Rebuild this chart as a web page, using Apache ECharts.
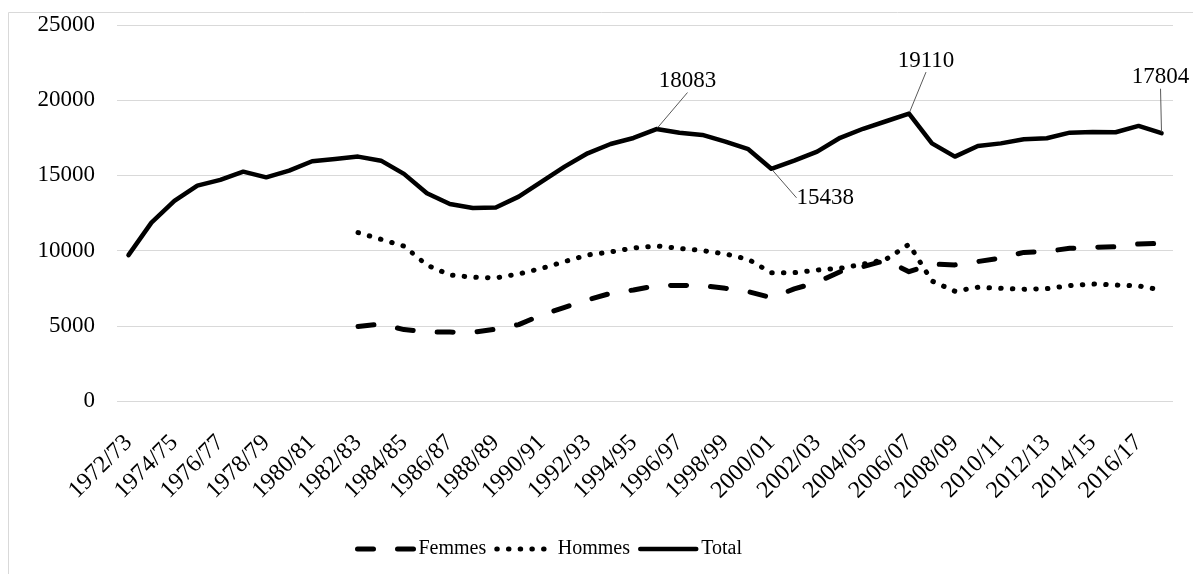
<!DOCTYPE html>
<html>
<head>
<meta charset="utf-8">
<script src="https://cdn.jsdelivr.net/npm/echarts@6/dist/echarts.min.js"></script>
<style>html,body{margin:0;padding:0;background:#fff}#c{width:1193px;height:574px}</style>
</head>
<body>
<div id="c"></div>
<script>
const categories = [];
for (let y = 1972; y <= 2017; y++) {
  categories.push(y + '/' + String((y + 1) % 100).padStart(2, '0'));
}
const femmes = [null,null,null,null,null,null,null,null,null,null,
  4950,5120,4750,4600,4580,4570,4780,5080,5720,6230,
  6720,7160,7380,7670,7680,7670,7490,7270,6870,7450,
  7900,8600,8930,9350,8600,9110,9050,9270,9510,9880,
  9950,10150,10220,10260,10440,10490];
const hommes = [null,null,null,null,null,null,null,null,null,null,
  11200,10750,10300,9040,8380,8230,8180,8450,8820,9270,
  9710,9910,10170,10310,10150,10000,9780,9420,8530,8530,
  8710,8820,9100,9420,10420,7980,7300,7560,7490,7430,
  7470,7670,7780,7710,7650,7380];
const total = [9700,11860,13300,14320,14700,15250,14870,15320,15940,16090,
  16250,15980,15100,13810,13100,12830,12870,13590,14580,15580,
  16470,17090,17490,18083,17840,17690,17240,16740,15438,15980,
  16580,17500,18100,18600,19110,17130,16250,16960,17130,17400,
  17470,17840,17890,17870,18290,17804];
const labelledIdx = [23, 28, 34, 45];
const labelShift = {23: [31, -30], 28: [54, 47], 34: [17, -35], 45: [-1, -38]};

const FONT = '"Liberation Serif", "Times New Roman", serif';
const chart = echarts.init(document.getElementById('c'), null, {renderer: 'canvas'});

const totalData = total.map((v, i) => {
  if (labelledIdx.indexOf(i) >= 0) {
    return {value: v, symbol: 'circle', symbolSize: 3,
      label: {show: true, position: 'top', distance: 5, formatter: '{c}',
        fontFamily: FONT, fontSize: 23, color: '#000'}};
  }
  return v;
});

const dashF = [16, 24], dotH = [0.5, 11.2];

chart.setOption({
  animation: false,
  graphic: [{type: 'rect', silent: true, z: -1,
    shape: {x: 8.5, y: 12.5, width: 1400, height: 1000},
    style: {fill: 'none', stroke: '#d9d9d9', lineWidth: 1}}],
  grid: {left: 117, right: 20, top: 25, bottom: 173, containLabel: false},
  legend: {
    left: 350, top: 534,
    itemWidth: 56, itemHeight: 14, itemGap: 8,
    textStyle: {fontFamily: FONT, fontSize: 20, color: '#000'},
    itemStyle: {opacity: 0},
    data: [
      {name: 'Femmes', itemStyle: {opacity: 0},
        lineStyle: {color: '#000', width: 5, type: dashF, cap: 'round', opacity: 1}},
      {name: 'Hommes', itemStyle: {opacity: 0},
        lineStyle: {color: '#000', width: 5, type: dotH, cap: 'round', opacity: 1}},
      {name: 'Total', itemStyle: {opacity: 0},
        lineStyle: {color: '#000', width: 4.5, type: 'solid', cap: 'round', opacity: 1}}
    ]
  },
  xAxis: {
    type: 'category', data: categories, boundaryGap: true,
    axisLine: {show: false}, axisTick: {show: false},
    axisLabel: {interval: 1, rotate: 45, margin: 38,
      fontFamily: FONT, fontSize: 24, color: '#000'}
  },
  yAxis: {
    type: 'value', min: 0, max: 25000, interval: 5000,
    axisLine: {show: false}, axisTick: {show: false},
    splitLine: {lineStyle: {color: '#d9d9d9', width: 1}},
    axisLabel: {margin: 22, fontFamily: FONT, fontSize: 23, color: '#000',
      formatter: function (v) { return String(v); }}
  },
  series: [
    {name: 'Femmes', type: 'line', data: femmes, symbol: 'none',
      lineStyle: {color: '#000', width: 5, type: dashF, cap: 'round', join: 'round'},
      itemStyle: {color: '#000'}},
    {name: 'Hommes', type: 'line', data: hommes, symbol: 'none',
      lineStyle: {color: '#000', width: 5, type: dotH, cap: 'round', join: 'round'},
      itemStyle: {color: '#000'}},
    {name: 'Total', type: 'line', data: totalData, symbol: 'none', showSymbol: true,
      lineStyle: {color: '#000', width: 4.5, cap: 'round', join: 'round'},
      itemStyle: {color: '#000'},
      labelLine: {show: true, lineStyle: {color: '#595959', width: 1}},
      labelLayout: function (p) {
        const s = labelShift[p.dataIndex];
        return s ? {dx: s[0], dy: s[1]} : {};
      }}
  ]
});
</script>
</body>
</html>
